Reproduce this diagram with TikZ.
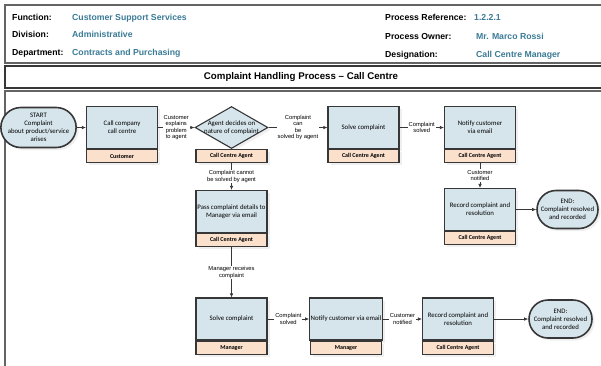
\documentclass[tikz,border=0pt]{standalone}
\usepackage{fontspec}
\setmainfont{Liberation Sans}
\newfontfamily\boxfont{Carlito}
\usetikzlibrary{arrows.meta,shapes.geometric,shapes.misc,shadows}

\definecolor{procfill}{RGB}{214,229,236}
\definecolor{rolefill}{RGB}{251,224,204}
\definecolor{framegrey}{RGB}{100,100,100}
\definecolor{edgegrey}{RGB}{55,55,55}
\definecolor{valueblue}{RGB}{58,122,150}

\tikzset{
  hdr/.style={anchor=base west,inner sep=0pt,font=\fontsize{8.7}{10}\selectfont\bfseries},
  hdrval/.style={hdr,text=valueblue},
  boxtext/.style={align=center,font=\boxfont\fontsize{6.8}{8}\selectfont},
  proc/.style={boxtext,draw=edgegrey,line width=1.1pt,fill=procfill,
    minimum width=71pt,minimum height=42pt,inner sep=1pt,
    drop shadow={shadow xshift=2.5pt,shadow yshift=-2.5pt,fill=black!12}},
  role/.style={draw=edgegrey,line width=1.1pt,fill=rolefill,anchor=north,
    minimum width=71pt,minimum height=13pt,inner sep=0pt,
    font=\boxfont\bfseries\fontsize{6}{7}\selectfont,
    drop shadow={shadow xshift=2.5pt,shadow yshift=-2.5pt,fill=black!12}},
  decision/.style={diamond,draw=edgegrey,line width=1.1pt,fill=procfill,
    minimum width=73pt,minimum height=42pt,inner sep=0pt,
    drop shadow={shadow xshift=2.5pt,shadow yshift=-2.5pt,fill=black!12}},
  term/.style={rounded rectangle,boxtext,draw=edgegrey,line width=1.6pt,
    fill=procfill,inner sep=1pt,
    drop shadow={shadow xshift=2.5pt,shadow yshift=-2.5pt,fill=black!12}},
  flow/.style={draw=edgegrey,line width=0.7pt,-{Latex[length=4pt,width=3.5pt]}},
  elabel/.style={fill=white,inner sep=0.8pt,align=center,
    font=\fontsize{5.8}{6.5}\selectfont},
}

\begin{document}
\begin{tikzpicture}[x=1pt,y=-1pt]
  \useasboundingbox (0,0) rectangle (601,365);

  % header and title frames
  \draw[framegrey,line width=1.2pt] (5,5) rectangle (606,63);
  \draw[edgegrey,line width=1.2pt] (5,66) rectangle (606,88);
  \draw[framegrey,line width=1.4pt] (5,372) -- (5,91) -- (606,91);

  \node[hdr] (fn) at (12,20) {Function:};
  \node[hdr] (dv) at (12,37.5) {Division:};
  \node[hdr] (dp) at (12,55.5) {Department:};
  \node[hdrval] (fnv) at (72,20) {Customer Support Services};
  \node[hdrval] (dvv) at (72,37.5) {Administrative};
  \node[hdrval] (dpv) at (72,55.5) {Contracts and Purchasing};
  \node[hdr] (pr) at (385,20) {Process Reference:};
  \node[hdr] (po) at (385,39.5) {Process Owner:};
  \node[hdr] (ds) at (385,57.5) {Designation:};
  \node[hdrval] (prv) at (474,20) {1.2.2.1};
  \node[hdrval] (pov) at (476,39.5) {Mr. Marco Rossi};
  \node[hdrval] (dsv) at (476,57.5) {Call Centre Manager};

  \node[font=\fontsize{9.7}{11}\selectfont\bfseries] (title) at (301,77)
    {Complaint Handling Process -- Call Centre};

  % top row: agent handles it
  \node[term,minimum width=63pt,minimum height=40pt] (start) at (38.5,127.5)
    {START\\Complaint\\about product/service\\arises};
  \node[proc] (call) at (122,127.5) {Call company\\call centre};
  \node[role] (call-role) at (call.south) {Customer};
  \node[decision,label={[boxtext]center:Agent decides on\\nature of complaint}]
    (decide) at (231.5,127.5) {};
  \node[role] (decide-role) at (decide.south) {Call Centre Agent};
  \node[proc] (solve) at (363.5,127.5) {Solve complaint};
  \node[role] (solve-role) at (solve.south) {Call Centre Agent};
  \node[proc] (notify) at (480,127.5) {Notify customer\\via email};
  \node[role] (notify-role) at (notify.south) {Call Centre Agent};
  \node[proc] (record) at (480,209.5) {Record complaint and\\resolution};
  \node[role] (record-role) at (record.south) {Call Centre Agent};
  \node[term,minimum width=63pt,minimum height=38pt] (end-agent) at (567.5,209.5)
    {END:\\Complaint resolved\\and recorded};

  % escalation to the manager
  \node[proc] (pass) at (231.5,211.5) {Pass complaint details to\\Manager via email};
  \node[role] (pass-role) at (pass.south) {Call Centre Agent};
  \node[proc] (msolve) at (231.5,319) {Solve complaint};
  \node[role] (msolve-role) at (msolve.south) {Manager};
  \node[proc] (mnotify) at (346,319) {Notify customer via email};
  \node[role] (mnotify-role) at (mnotify.south) {Manager};
  \node[proc] (mrecord) at (458,319) {Record complaint and\\resolution};
  \node[role] (mrecord-role) at (mrecord.south) {Call Centre Agent};
  \node[term,minimum width=65pt,minimum height=38pt] (end-manager) at (560.5,319)
    {END:\\Complaint resolved\\and recorded};

  \draw[flow] (start) -- (call);
  \draw[flow] (call) -- node[elabel]{Customer\\explains\\problem\\to agent} (decide);
  \draw[flow] (decide) -- node[elabel]{Complaint\\can\\be\\solved by agent} (solve);
  \draw[flow] (solve) -- node[elabel]{Complaint\\solved} (notify);
  \draw[flow] (notify-role) -- node[elabel]{Customer\\notified} (record);
  \draw[flow] (record) -- (end-agent);
  \draw[flow] (decide-role) -- node[elabel]{Complaint cannot\\be solved by agent} (pass);
  \draw[flow] (pass-role) -- node[elabel]{Manager receives\\complaint} (msolve);
  \draw[flow] (msolve) -- node[elabel]{Complaint\\solved} (mnotify);
  \draw[flow] (mnotify) -- node[elabel]{Customer\\notified} (mrecord);
  \draw[flow] (mrecord) -- (end-manager);
\end{tikzpicture}
\end{document}
